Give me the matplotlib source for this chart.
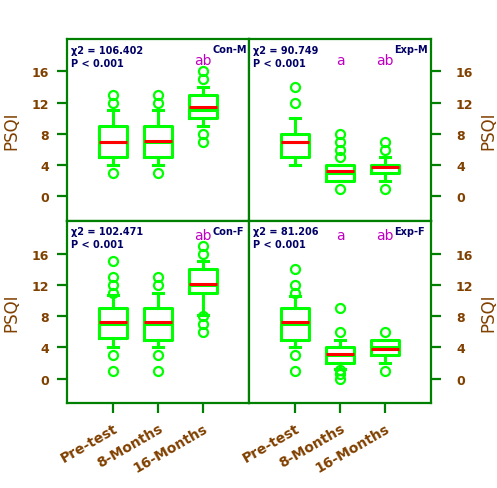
import numpy as np
import matplotlib.pyplot as plt

groups = ["Pre-test", "8-Months", "16-Months"]
panel_names = ["Con-M", "Exp-M", "Con-F", "Exp-F"]
chi2_vals = [106.402, 90.749, 102.471, 81.206]
sig_letters = [["", "", "ab"], ["", "a", "ab"], ["", "", "ab"], ["", "a", "ab"]]

# box summaries, order: Pre-test, 8-Months, 16-Months
conm_q1 = [5, 5, 10]
conm_med = [7, 7, 11]
conm_q3 = [9, 9, 13]
conm_mean = [7.0, 7.15, 11.5]
conm_lo = [4, 4, 9]
conm_hi = [11, 11, 14]
conm_out = [[3, 12, 13], [3, 12, 13], [7, 8, 15, 16]]

expm_q1 = [5, 2, 3]
expm_med = [7, 3, 4]
expm_q3 = [8, 4, 4]
expm_mean = [7.0, 3.2, 3.75]
expm_lo = [4, 2, 2]
expm_hi = [10, 4, 5]
expm_out = [[12, 14], [1, 5, 6, 7, 8], [1, 6, 7]]

conf_q1 = [5.25, 5, 11]
conf_med = [7, 7, 12]
conf_q3 = [9, 9, 14]
conf_mean = [7.2, 7.2, 12.05]
conf_lo = [4, 4, 8.2]
conf_hi = [10.7, 11, 15]
conf_out = [[1, 3, 11, 12, 13, 15], [1, 3, 12, 13], [6, 7, 8, 16, 17]]

expf_q1 = [5, 2, 3]
expf_med = [7, 3, 4]
expf_q3 = [9, 4, 5]
expf_mean = [7.2, 3.1, 3.85]
expf_lo = [4, 1.2, 2]
expf_hi = [10.6, 5, 5]
expf_out = [[1, 3, 11, 12, 14], [0, 0.6, 1.1, 6, 9], [1, 6]]

yticks = [0, 4, 8, 12, 16]


def make_stats(q1, med, q3, mean, lo, hi, out):
    stats = []
    for i in range(len(groups)):
        stats.append({"q1": q1[i], "med": med[i], "q3": q3[i], "mean": mean[i],
                      "whislo": lo[i], "whishi": hi[i], "fliers": out[i], "label": groups[i]})
    return stats


all_stats = [make_stats(conm_q1, conm_med, conm_q3, conm_mean, conm_lo, conm_hi, conm_out),
             make_stats(expm_q1, expm_med, expm_q3, expm_mean, expm_lo, expm_hi, expm_out),
             make_stats(conf_q1, conf_med, conf_q3, conf_mean, conf_lo, conf_hi, conf_out),
             make_stats(expf_q1, expf_med, expf_q3, expf_mean, expf_lo, expf_hi, expf_out)]

axcol = "#008000"
brown = "#804000"
navy = "#000066"
lime = "#00FF00"
magenta = "#C000C0"

W, H = 497, 489
fig = plt.figure(figsize=(W / 100, H / 100), dpi=100)

# panel boxes in pixels: (left, top, width, height)
px = [(67, 39.5, 182, 182.2), (249, 39.5, 182, 182.2),
      (67, 221.7, 182, 182.3), (249, 221.7, 182, 182.3)]

for k in range(4):
    l, t, w, h = px[k]
    ax = fig.add_axes([l / W, 1 - (t + h) / H, w / W, h / H])
    ax.bxp(all_stats[k], positions=[1, 2, 3], widths=0.62, capwidths=0.22,
           showmeans=True, meanline=True,
           boxprops=dict(color=lime, lw=2.2),
           whiskerprops=dict(color=lime, lw=2.2),
           capprops=dict(color=lime, lw=2.2),
           medianprops=dict(color=lime, lw=2.2),
           meanprops=dict(color="red", lw=2.2, linestyle="-"),
           flierprops=dict(marker="o", markersize=6.5, markerfacecolor="none",
                           markeredgecolor=lime, markeredgewidth=1.6))
    ax.set_xlim(-0.02, 4.02)
    ax.set_ylim(-3.1, 20.2)
    for s in ax.spines.values():
        s.set_color(axcol)
        s.set_linewidth(1.6)
    ax.set_yticks(yticks)
    ax.set_yticklabels([str(v) for v in yticks])
    right = k % 2 == 1
    if right:
        ax.yaxis.tick_right()
        ax.yaxis.set_label_position("right")
        ax.tick_params(axis="y", pad=11)
    else:
        ax.yaxis.tick_left()
        ax.tick_params(axis="y", pad=6)
    ax.tick_params(axis="y", length=7, width=1.6, color=axcol, labelcolor=brown,
                   labelsize=9)
    for lab in ax.get_yticklabels():
        lab.set_fontweight("bold")
    ax.set_ylabel("PSQI", color=brown, fontsize=12, labelpad=4 if right else 8,
                  rotation=90)
    if k < 2:
        ax.set_xticks([])
    else:
        ax.set_xticks([1, 2, 3])
        ax.set_xticklabels(groups, rotation=30, ha="right", va="top",
                           rotation_mode="anchor", color=brown, fontsize=10,
                           fontweight="bold")
        ax.tick_params(axis="x", length=7, width=1.6, color=axcol, pad=6)

    top = 18.75 if k < 2 else 18.85
    ax.text(0.07, top, "\u03c72 = %.3f" % chi2_vals[k], color=navy, fontsize=7,
            fontweight="bold", va="center", ha="left")
    ax.text(0.07, top - 1.65, "P < 0.001", color=navy, fontsize=7,
            fontweight="bold", va="center", ha="left")
    ax.text(3.2, 18.9, panel_names[k], color=navy, fontsize=7,
            fontweight="bold", va="center", ha="left")
    ly = 17.5 if k < 2 else 18.4
    for i in range(3):
        if sig_letters[k][i]:
            ax.text(i + 1, ly, sig_letters[k][i], color=magenta, fontsize=10,
                    va="center", ha="center")

fig.savefig("out.png", dpi=100)
